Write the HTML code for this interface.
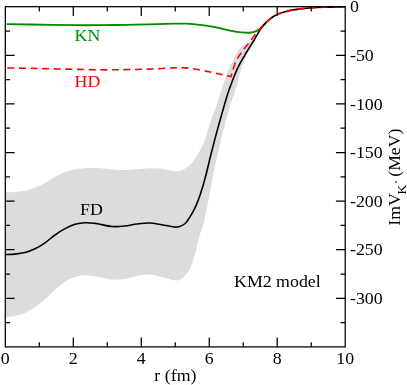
<!DOCTYPE html>
<html><head><meta charset="utf-8"><style>
html,body{margin:0;padding:0;background:#fff;}
svg{display:block;will-change:transform;opacity:0.999}
text{font-family:"Liberation Serif",serif;font-size:17.2px;fill:#000}
</style></head><body>
<svg width="407" height="385" viewBox="0 0 407 385">
<rect width="407" height="385" fill="#fff"/>
<path d="M5.30 192.40 C6.92 192.33 11.72 192.28 15.00 192.00 C18.28 191.72 21.67 191.40 25.00 190.70 C28.33 190.00 31.67 189.05 35.00 187.80 C38.33 186.55 41.67 185.03 45.00 183.20 C48.33 181.37 51.67 178.67 55.00 176.80 C58.33 174.93 61.67 173.23 65.00 172.00 C68.33 170.77 71.67 170.03 75.00 169.40 C78.33 168.77 81.67 168.43 85.00 168.20 C88.33 167.97 92.50 168.00 95.00 168.00 C97.50 168.00 97.12 167.97 100.00 168.20 C102.88 168.43 108.18 169.10 112.30 169.40 C116.42 169.70 120.58 170.03 124.70 170.00 C128.82 169.97 132.88 169.50 137.00 169.20 C141.12 168.90 145.28 168.28 149.40 168.20 C153.52 168.12 158.27 168.30 161.70 168.70 C165.13 169.10 167.53 170.13 170.00 170.60 C172.47 171.07 174.33 171.63 176.50 171.50 C178.67 171.37 180.75 170.92 183.00 169.80 C185.25 168.68 188.00 166.68 190.00 164.80 C192.00 162.92 193.50 160.63 195.00 158.50 C196.50 156.37 197.47 154.80 199.00 152.00 C200.53 149.20 202.70 145.47 204.20 141.70 C205.70 137.93 206.70 133.52 208.00 129.40 C209.30 125.28 210.52 121.12 212.00 117.00 C213.48 112.88 215.47 108.82 216.90 104.70 C218.33 100.58 219.28 96.42 220.60 92.30 C221.92 88.18 223.48 83.72 224.80 80.00 C226.12 76.28 227.28 73.00 228.50 70.00 C229.72 67.00 230.68 64.92 232.10 62.00 C233.52 59.08 235.35 55.08 237.00 52.50 C238.65 49.92 239.93 48.25 242.00 46.50 C244.07 44.75 246.82 44.17 249.40 42.00 C251.98 39.83 256.15 34.92 257.50 33.50 L257.50 33.50 C256.67 35.32 254.27 40.93 252.50 44.40 C250.73 47.87 248.65 50.58 246.90 54.30 C245.15 58.02 243.45 62.42 242.00 66.70 C240.55 70.98 239.42 75.73 238.20 80.00 C236.98 84.27 235.98 88.18 234.70 92.30 C233.42 96.42 232.35 98.52 230.50 104.70 C228.65 110.88 225.55 121.85 223.60 129.40 C221.65 136.95 220.22 143.93 218.80 150.00 C217.38 156.07 216.23 160.53 215.10 165.80 C213.97 171.07 213.00 176.33 212.00 181.60 C211.00 186.87 210.13 192.13 209.10 197.40 C208.07 202.67 206.82 208.43 205.80 213.20 C204.78 217.97 204.10 222.03 203.00 226.00 C201.90 229.97 200.53 232.28 199.20 237.00 C197.87 241.72 196.30 249.57 195.00 254.30 C193.70 259.03 192.83 262.12 191.40 265.40 C189.97 268.68 188.27 271.65 186.40 274.00 C184.53 276.35 182.27 278.47 180.20 279.50 C178.13 280.53 177.08 280.62 174.00 280.20 C170.92 279.78 165.80 277.93 161.70 277.00 C157.60 276.07 153.52 274.77 149.40 274.60 C145.28 274.43 141.12 275.27 137.00 276.00 C132.88 276.73 128.82 278.42 124.70 279.00 C120.58 279.58 116.42 279.80 112.30 279.50 C108.18 279.20 104.32 277.90 100.00 277.20 C95.68 276.50 90.57 275.33 86.40 275.30 C82.23 275.27 78.57 275.92 75.00 277.00 C71.43 278.08 68.33 279.63 65.00 281.80 C61.67 283.97 58.33 287.08 55.00 290.00 C51.67 292.92 48.33 296.43 45.00 299.30 C41.67 302.17 38.33 304.95 35.00 307.20 C31.67 309.45 28.33 311.33 25.00 312.80 C21.67 314.27 18.28 315.30 15.00 316.00 C11.72 316.70 6.92 316.83 5.30 317.00 Z" fill="#dcdcdc" stroke="none"/>
<path d="M6.80 24.20 C10.67 24.25 18.63 24.33 30.00 24.50 C41.37 24.67 63.33 25.08 75.00 25.20 C86.67 25.32 91.72 25.25 100.00 25.20 C108.28 25.15 116.47 25.03 124.70 24.90 C132.93 24.77 141.18 24.60 149.40 24.40 C157.62 24.20 167.83 23.82 174.00 23.70 C180.17 23.58 182.07 23.52 186.40 23.70 C190.73 23.88 195.68 24.30 200.00 24.80 C204.32 25.30 208.18 25.93 212.30 26.70 C216.42 27.47 220.58 28.55 224.70 29.40 C228.82 30.25 233.45 31.25 237.00 31.80 C240.55 32.35 243.67 32.58 246.00 32.70 C248.33 32.82 249.40 32.73 251.00 32.50 C252.60 32.27 254.27 31.82 255.60 31.30 C256.93 30.78 257.93 30.18 259.00 29.40 C260.07 28.62 261.00 27.57 262.00 26.60 C263.00 25.63 264.50 24.10 265.00 23.60" fill="none" stroke="#008b00" stroke-width="1.8"/>
<path d="M5.30 254.60 C6.92 254.52 11.72 254.45 15.00 254.10 C18.28 253.75 21.67 253.38 25.00 252.50 C28.33 251.62 31.67 250.42 35.00 248.80 C38.33 247.18 41.67 245.10 45.00 242.80 C48.33 240.50 51.67 237.37 55.00 235.00 C58.33 232.63 61.67 230.38 65.00 228.60 C68.33 226.82 71.62 225.28 75.00 224.30 C78.38 223.32 81.88 222.85 85.30 222.70 C88.72 222.55 93.05 223.15 95.50 223.40 C97.95 223.65 97.20 223.68 100.00 224.20 C102.80 224.72 108.18 226.20 112.30 226.50 C116.42 226.80 120.58 226.42 124.70 226.00 C128.82 225.58 132.88 224.50 137.00 224.00 C141.12 223.50 145.28 222.88 149.40 223.00 C153.52 223.12 157.60 224.03 161.70 224.70 C165.80 225.37 171.12 226.67 174.00 227.00 C176.88 227.33 177.13 227.28 179.00 226.70 C180.87 226.12 183.37 225.15 185.20 223.50 C187.03 221.85 188.25 219.67 190.00 216.80 C191.75 213.93 193.93 210.18 195.70 206.30 C197.47 202.42 198.93 198.55 200.60 193.50 C202.27 188.45 204.00 182.42 205.70 176.00 C207.40 169.58 208.83 162.77 210.80 155.00 C212.77 147.23 215.22 137.78 217.50 129.40 C219.78 121.02 222.70 110.93 224.50 104.70 C226.30 98.47 227.05 95.78 228.30 92.00 C229.55 88.22 231.05 84.53 232.00 82.00 C232.95 79.47 233.33 78.48 234.00 76.80 C234.67 75.12 235.33 73.47 236.00 71.90 C236.67 70.33 237.30 68.85 238.00 67.40 C238.70 65.95 239.03 65.30 240.20 63.20 C241.37 61.10 243.20 57.83 245.00 54.80 C246.80 51.77 249.47 47.47 251.00 45.00 C252.53 42.53 253.20 41.67 254.20 40.00 C255.20 38.33 255.98 36.73 257.00 35.00 C258.02 33.27 258.97 31.50 260.30 29.60 C261.63 27.70 262.95 25.70 265.00 23.60 C267.05 21.50 270.17 18.67 272.60 17.00 C275.03 15.33 276.78 14.67 279.60 13.60 C282.42 12.53 286.22 11.37 289.50 10.60 C292.78 9.83 296.03 9.43 299.30 9.00 C302.57 8.57 305.00 8.30 309.10 8.00 C313.20 7.70 317.88 7.40 323.90 7.20 C329.92 7.00 341.65 6.87 345.20 6.80" fill="none" stroke="#000" stroke-width="1.6"/>
<path d="M5.30 67.90 C9.42 67.97 20.88 68.12 30.00 68.30 C39.12 68.48 48.33 68.75 60.00 69.00 C71.67 69.25 89.22 69.70 100.00 69.80 C110.78 69.90 116.47 69.72 124.70 69.60 C132.93 69.48 141.18 69.38 149.40 69.10 C157.62 68.82 167.83 68.10 174.00 67.90 C180.17 67.70 182.07 67.55 186.40 67.90 C190.73 68.25 195.73 69.25 200.00 70.00 C204.27 70.75 208.33 71.63 212.00 72.40 C215.67 73.17 218.83 73.90 222.00 74.60 C225.17 75.30 229.50 76.27 231.00 76.60 L231.00 76.60 C231.22 75.83 231.77 73.78 232.30 72.00 C232.83 70.22 233.52 67.83 234.20 65.90 C234.88 63.97 235.53 62.15 236.40 60.40 C237.27 58.65 238.33 57.05 239.40 55.40 C240.47 53.75 241.48 52.23 242.80 50.50 C244.12 48.77 245.93 46.75 247.30 45.00 C248.67 43.25 249.72 41.70 251.00 40.00 C252.28 38.30 253.58 36.50 255.00 34.80 C256.42 33.10 257.83 31.67 259.50 29.80 C261.17 27.93 262.82 25.73 265.00 23.60 C267.18 21.47 270.17 18.67 272.60 17.00 C275.03 15.33 276.78 14.67 279.60 13.60 C282.42 12.53 286.22 11.37 289.50 10.60 C292.78 9.83 296.03 9.43 299.30 9.00 C302.57 8.57 305.00 8.30 309.10 8.00 C313.20 7.70 317.88 7.40 323.90 7.20 C329.92 7.00 341.65 6.87 345.20 6.80" fill="none" stroke="#ff0000" stroke-width="1.6" stroke-dasharray="7 4.6" stroke-dashoffset="-2.2"/>
<path d="M39.29 6.70 v4.70 M39.29 346.90 v-4.70 M73.28 6.70 v9.30 M73.28 346.90 v-9.30 M107.27 6.70 v4.70 M107.27 346.90 v-4.70 M141.26 6.70 v9.30 M141.26 346.90 v-9.30 M175.25 6.70 v4.70 M175.25 346.90 v-4.70 M209.24 6.70 v9.30 M209.24 346.90 v-9.30 M243.23 6.70 v4.70 M243.23 346.90 v-4.70 M277.22 6.70 v9.30 M277.22 346.90 v-9.30 M311.21 6.70 v4.70 M311.21 346.90 v-4.70 M5.30 31.00 h4.70 M345.20 31.00 h-4.70 M5.30 55.30 h9.30 M345.20 55.30 h-9.30 M5.30 79.60 h4.70 M345.20 79.60 h-4.70 M5.30 103.90 h9.30 M345.20 103.90 h-9.30 M5.30 128.20 h4.70 M345.20 128.20 h-4.70 M5.30 152.50 h9.30 M345.20 152.50 h-9.30 M5.30 176.80 h4.70 M345.20 176.80 h-4.70 M5.30 201.10 h9.30 M345.20 201.10 h-9.30 M5.30 225.40 h4.70 M345.20 225.40 h-4.70 M5.30 249.70 h9.30 M345.20 249.70 h-9.30 M5.30 274.00 h4.70 M345.20 274.00 h-4.70 M5.30 298.30 h9.30 M345.20 298.30 h-9.30 M5.30 322.60 h4.70 M345.20 322.60 h-4.70 " fill="none" stroke="#000" stroke-width="1.25"/>
<rect x="5.3" y="6.7" width="339.90" height="340.20" fill="none" stroke="#000" stroke-width="1.25"/>
<g><text transform="translate(5.30,364.00) scale(1.020,1)" text-anchor="middle" style="fill:#000;font-size:17.5px">0</text><text transform="translate(73.28,364.00) scale(1.020,1)" text-anchor="middle" style="fill:#000;font-size:17.5px">2</text><text transform="translate(141.26,364.00) scale(1.020,1)" text-anchor="middle" style="fill:#000;font-size:17.5px">4</text><text transform="translate(209.24,364.00) scale(1.020,1)" text-anchor="middle" style="fill:#000;font-size:17.5px">6</text><text transform="translate(277.22,364.00) scale(1.020,1)" text-anchor="middle" style="fill:#000;font-size:17.5px">8</text><text transform="translate(345.20,364.00) scale(1.020,1)" text-anchor="middle" style="fill:#000;font-size:17.5px">10</text></g>
<g><text transform="translate(350.00,12.40) scale(1.020,1)" text-anchor="start" style="fill:#000;font-size:17.5px">0</text><text transform="translate(350.00,61.00) scale(1.020,1)" text-anchor="start" style="fill:#000;font-size:17.5px">-50</text><text transform="translate(350.00,109.60) scale(1.020,1)" text-anchor="start" style="fill:#000;font-size:17.5px">-100</text><text transform="translate(350.00,158.20) scale(1.020,1)" text-anchor="start" style="fill:#000;font-size:17.5px">-150</text><text transform="translate(350.00,206.80) scale(1.020,1)" text-anchor="start" style="fill:#000;font-size:17.5px">-200</text><text transform="translate(350.00,255.40) scale(1.020,1)" text-anchor="start" style="fill:#000;font-size:17.5px">-250</text><text transform="translate(350.00,304.00) scale(1.020,1)" text-anchor="start" style="fill:#000;font-size:17.5px">-300</text></g>
<text transform="translate(74.60,41.40) scale(1.020,1)" text-anchor="start" style="fill:#008b00;font-size:17.5px">KN</text>
<text transform="translate(74.60,87.20) scale(1.020,1)" text-anchor="start" style="fill:#ff0000;font-size:17.5px">HD</text>
<text transform="translate(80.00,214.90) scale(1.020,1)" text-anchor="start" style="fill:#000;font-size:17.5px">FD</text>
<text transform="translate(234.00,287.10) scale(1.020,1)" text-anchor="start" style="fill:#000;font-size:17.5px">KM2 model</text>
<text transform="translate(175.40,381.20) scale(1.020,1)" text-anchor="middle" style="fill:#000;font-size:17.5px">r (fm)</text>
<g transform="translate(399.6,225.8) rotate(-90)">
<text transform="translate(0.00,0.00) scale(1.020,1)" text-anchor="start" style="fill:#000;font-size:17.5px">ImV</text>
<text transform="translate(31.20,6.40) scale(1.020,1)" text-anchor="start" style="fill:#000;font-size:13.4px">K</text>
<path d="M42.8 -3.6 h2.1" stroke="#000" stroke-width="1" fill="none"/>
<text transform="translate(49.10,0.00) scale(1.020,1)" text-anchor="start" style="fill:#000;font-size:17.3px">(MeV)</text>
</g>
</svg>
</body></html>
